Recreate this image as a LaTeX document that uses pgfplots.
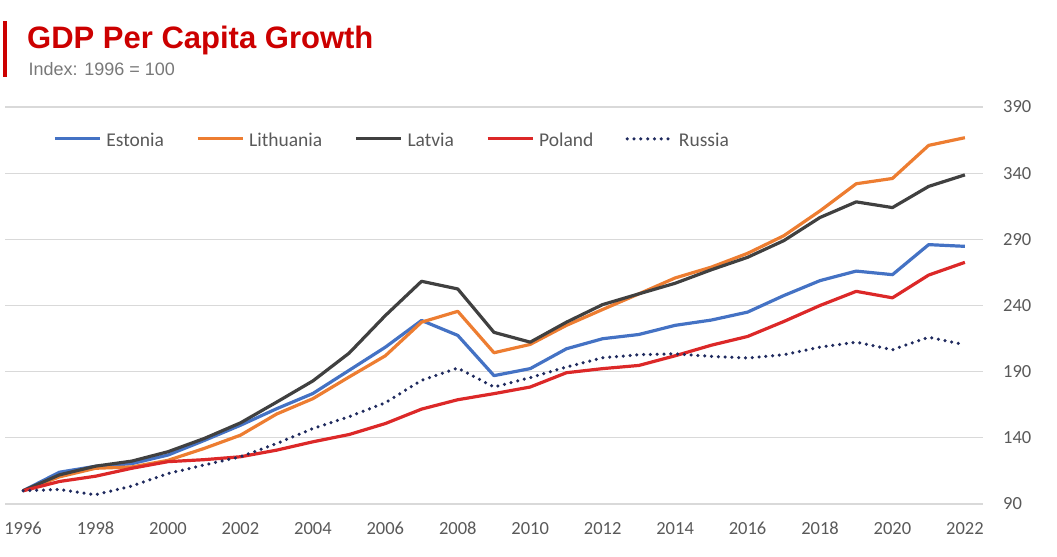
\documentclass[border=0pt]{standalone}
\usepackage{fontspec}
\setmainfont{Carlito}
\newfontfamily\arialfont{Liberation Sans}
\usepackage{pgfplots}
\pgfplotsset{compat=1.18}
\usepackage{pgfplotstable}

\definecolor{est}{RGB}{68,114,196}
\definecolor{lit}{RGB}{237,125,49}
\definecolor{lat}{RGB}{64,64,64}
\definecolor{pol}{RGB}{220,40,40}
\definecolor{rus}{RGB}{31,42,94}
\definecolor{titlered}{RGB}{204,0,0}
\definecolor{txtgray}{RGB}{89,89,89}
\definecolor{subgray}{RGB}{120,120,120}
\definecolor{gridgray}{RGB}{217,217,217}

\pgfplotstableread{
year E Li La P R
1996 100 100 100 100 100
1997 114 110.5 112 107 101
1998 118.5 117 118.6 111 97
1999 120.5 118 122.4 117 103.6
2000 127 123 129.5 122 113
2001 138 132 139.5 123.5 119.5
2002 149.5 142 151.3 125.7 125.7
2003 162 158 167 130.7 135.7
2004 173.5 169.6 183 137 147
2005 191 186 204 142.5 156
2006 208.5 202 232.4 150.8 166.5
2007 228.7 227.4 258.3 161.7 183.5
2008 217.4 235.6 252.5 168.8 192.7
2009 187 204.3 219.7 173.4 178.4
2010 192.3 210.6 212.3 178.4 185.5
2011 207.3 225 227.4 189.2 193.5
2012 214.9 237 240.7 192.3 200.5
2013 218.1 248.8 248.8 194.7 202.8
2014 225 260.8 256.8 202 203.5
2015 229 269 267 210 201.5
2016 235 279.4 276.4 216.6 200.3
2017 247.5 292.7 289 227.9 202.8
2018 258.8 311.5 306.5 240 208.5
2019 266 332 318.3 250.7 212.3
2020 263.3 336 314 245.8 206.6
2021 286 361 330 263 216
2022 284.7 366.8 338.7 272.6 210.3
}\gdp

\begin{document}
\begin{tikzpicture}
\useasboundingbox (-5bp,-53bp) rectangle (1052bp,504bp);
\fill[titlered] (-2bp,483bp) rectangle (2bp,427bp);
\node[anchor=base west, inner sep=0pt, text=titlered] at (22bp,455.5bp)
  {\arialfont\bfseries\fontsize{31bp}{34bp}\selectfont GDP Per Capita Growth};
\node[anchor=base west, inner sep=0pt, text=subgray] at (23.5bp,428bp)
  {\arialfont\fontsize{18bp}{20bp}\selectfont Index: 1996 = 100};
\begin{axis}[
  at={(0,0)}, anchor=south west,
  scale only axis, width=978bp, height=397bp,
  xmin=1995.5, xmax=2022.5, ymin=90, ymax=390,
  axis line style={draw=none},
  major tick length=0pt,
  ymajorgrids, grid style={gridgray, line width=1.3bp},
  xtick={1996,1998,...,2022},
  ytick={90,140,...,390},
  yticklabel pos=right,
  /pgf/number format/assume math mode=true,
  /pgf/number format/1000 sep={},
  tick label style={font=\fontsize{18.5bp}{20bp}\selectfont, text=txtgray},
  xticklabel style={anchor=north, inner sep=0pt, yshift=-18bp},
  yticklabel style={anchor=west, inner sep=0pt, xshift=20bp},
  clip=false,
  legend columns=5,
  legend style={draw=none, fill=none, inner sep=0pt,
    at={(axis description cs:0,1)}, anchor=west, xshift=48bp, yshift=-36bp,
    font=\fontsize{19.5bp}{21bp}\selectfont, text=txtgray,
    nodes={inner sep=0pt, text height=0.7em, text depth=0.2em},
    column sep=5bp,
    /tikz/every even column/.append style={column sep=32bp}},
  legend image code/.code={\draw[#1] (0bp,5.5bp) -- (45bp,5.5bp);},
]
\addplot[est, line width=3.2bp, line join=round] table[x=year, y=E] {\gdp};
\addlegendentry{Estonia}
\addplot[lit, line width=3.2bp, line join=round] table[x=year, y=Li] {\gdp};
\addlegendentry{Lithuania}
\addplot[lat, line width=3.2bp, line join=round] table[x=year, y=La] {\gdp};
\addlegendentry{Latvia}
\addplot[pol, line width=3.2bp, line join=round] table[x=year, y=P] {\gdp};
\addlegendentry{Poland}
\addplot[rus, line width=3.5bp, line cap=round, dash pattern=on 0pt off 6.8bp] table[x=year, y=R] {\gdp};
\addlegendentry{Russia}
\end{axis}
\end{tikzpicture}
\end{document}
